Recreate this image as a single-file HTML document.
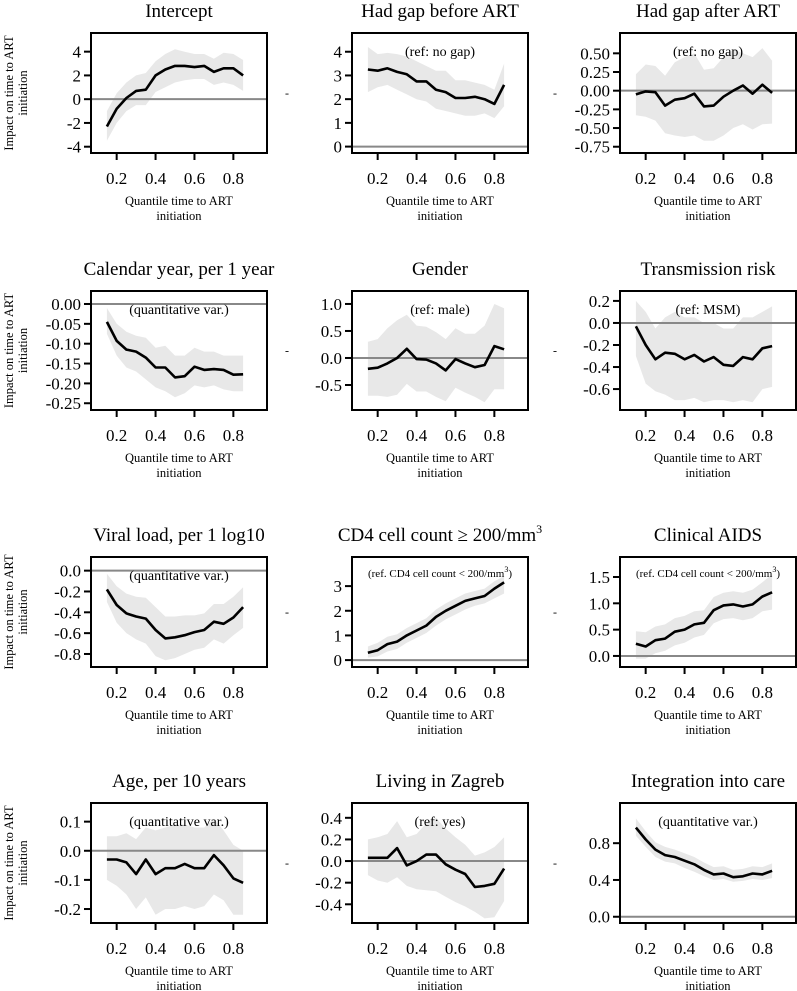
<!DOCTYPE html>
<html><head><meta charset="utf-8">
<style>
html,body{margin:0;padding:0;background:#fff;}
svg{display:block;font-family:"Liberation Serif",serif;}
</style></head>
<body>
<svg id="fig" width="797" height="991" viewBox="0 0 797 991" xmlns="http://www.w3.org/2000/svg"></svg>
<script>
const quantiles = [0.15,0.2,0.25,0.3,0.35,0.4,0.45,0.5,0.55,0.6,0.65,0.7,0.75,0.8,0.85];
const xTicks = [0.2,0.4,0.6,0.8];
const panelTitles = ["Intercept","Had gap before ART","Had gap after ART","Calendar year, per 1 year","Gender","Transmission risk","Viral load, per 1 log10","CD4 cell count \u2265 200/mm\u00B3","Clinical AIDS","Age, per 10 years","Living in Zagreb","Integration into care"];
const panelNotes = ["","(ref: no gap)","(ref: no gap)","(quantitative var.)","(ref: male)","(ref: MSM)","(quantitative var.)","(ref. CD4 cell count < 200/mm\u00B3)","(ref. CD4 cell count < 200/mm\u00B3)","(quantitative var.)","(ref: yes)","(quantitative var.)"];
const estIntercept = [-2.3,-0.8,0.1,0.7,0.8,2.0,2.5,2.8,2.8,2.7,2.8,2.3,2.6,2.6,2.0];
const lowIntercept = [-3.5,-2,-1,-0.5,-0.5,0.6,1,1.4,1.6,1.7,1.7,1.2,1.4,1.2,0.7];
const highIntercept = [-1,0.5,1.4,2,2.2,3.2,3.8,4.2,4,3.8,3.8,3.4,3.9,3.8,3.3];
const estGapBefore = [3.25,3.2,3.3,3.15,3.05,2.75,2.75,2.4,2.3,2.05,2.05,2.1,2.0,1.8,2.6];
const lowGapBefore = [2.3,2.5,2.6,2.4,2.2,2.0,1.9,1.6,1.5,1.4,1.3,1.3,1.4,1.2,1.7];
const highGapBefore = [4.2,3.9,3.95,3.9,3.8,3.6,3.4,3.2,3.2,2.8,2.8,2.7,2.6,2.4,3.5];
const estGapAfter = [-0.05,-0.01,-0.02,-0.2,-0.12,-0.1,-0.04,-0.21,-0.2,-0.08,0.0,0.07,-0.04,0.08,-0.03];
const lowGapAfter = [-0.33,-0.35,-0.4,-0.57,-0.6,-0.62,-0.6,-0.67,-0.67,-0.6,-0.5,-0.45,-0.52,-0.45,-0.44];
const highGapAfter = [0.22,0.35,0.33,0.2,0.38,0.45,0.5,0.28,0.3,0.45,0.55,0.5,0.45,0.57,0.4];
const estCalendar = [-0.045,-0.093,-0.115,-0.12,-0.135,-0.16,-0.16,-0.185,-0.182,-0.158,-0.166,-0.164,-0.166,-0.178,-0.177];
const lowCalendar = [-0.075,-0.13,-0.16,-0.17,-0.19,-0.21,-0.22,-0.235,-0.225,-0.205,-0.21,-0.205,-0.215,-0.22,-0.22];
const highCalendar = [-0.01,-0.05,-0.07,-0.08,-0.085,-0.11,-0.105,-0.13,-0.13,-0.11,-0.12,-0.12,-0.13,-0.13,-0.13];
const estGender = [-0.2,-0.18,-0.1,0.0,0.17,-0.02,-0.03,-0.1,-0.23,-0.02,-0.1,-0.17,-0.13,0.22,0.16];
const lowGender = [-0.7,-0.7,-0.72,-0.68,-0.48,-0.62,-0.62,-0.72,-0.8,-0.55,-0.64,-0.72,-0.82,-0.58,-0.58];
const highGender = [0.3,0.35,0.55,0.7,0.8,0.6,0.58,0.48,0.35,0.55,0.45,0.45,0.6,1.0,0.92];
const estTransmission = [-0.03,-0.2,-0.33,-0.27,-0.28,-0.33,-0.29,-0.35,-0.31,-0.38,-0.39,-0.31,-0.33,-0.23,-0.21];
const lowTransmission = [-0.3,-0.55,-0.62,-0.65,-0.7,-0.7,-0.68,-0.72,-0.7,-0.7,-0.72,-0.7,-0.72,-0.6,-0.58];
const highTransmission = [0.2,0.1,-0.05,0.05,0.1,0.05,0.05,0.0,0.0,-0.05,-0.05,0.05,0.05,0.1,0.15];
const estViral = [-0.18,-0.33,-0.41,-0.44,-0.46,-0.57,-0.65,-0.64,-0.62,-0.59,-0.57,-0.49,-0.51,-0.45,-0.35];
const lowViral = [-0.3,-0.5,-0.6,-0.66,-0.7,-0.82,-0.86,-0.84,-0.8,-0.76,-0.74,-0.66,-0.7,-0.62,-0.55];
const highViral = [-0.03,-0.15,-0.22,-0.25,-0.26,-0.35,-0.44,-0.44,-0.43,-0.43,-0.41,-0.32,-0.32,-0.25,-0.16];
const estCD4 = [0.3,0.4,0.65,0.75,1.0,1.2,1.4,1.75,2.0,2.2,2.4,2.5,2.6,2.9,3.15];
const lowCD4 = [0.1,0.15,0.35,0.45,0.7,0.9,1.1,1.4,1.65,1.85,2.05,2.2,2.3,2.5,2.7];
const highCD4 = [0.55,0.7,0.95,1.05,1.3,1.5,1.7,2.05,2.3,2.5,2.7,2.8,2.9,3.2,3.4];
const estAIDS = [0.23,0.18,0.3,0.33,0.46,0.5,0.6,0.63,0.87,0.96,0.98,0.94,0.98,1.13,1.21];
const lowAIDS = [-0.05,-0.05,0.05,0.1,0.2,0.25,0.35,0.4,0.62,0.7,0.72,0.68,0.72,0.85,0.88];
const highAIDS = [0.47,0.45,0.56,0.6,0.72,0.76,0.85,0.87,1.12,1.2,1.23,1.2,1.26,1.4,1.55];
const estAge = [-0.03,-0.03,-0.04,-0.08,-0.03,-0.08,-0.06,-0.06,-0.045,-0.06,-0.06,-0.015,-0.05,-0.095,-0.11];
const lowAge = [-0.1,-0.12,-0.15,-0.2,-0.16,-0.22,-0.2,-0.2,-0.19,-0.2,-0.19,-0.15,-0.17,-0.22,-0.22];
const highAge = [0.05,0.05,0.06,0.04,0.08,0.07,0.08,0.09,0.09,0.08,0.08,0.11,0.07,0.02,0.0];
const estZagreb = [0.03,0.03,0.03,0.12,-0.04,0.0,0.06,0.06,-0.03,-0.08,-0.12,-0.24,-0.23,-0.21,-0.07];
const lowZagreb = [-0.13,-0.18,-0.2,-0.15,-0.23,-0.26,-0.27,-0.28,-0.33,-0.38,-0.42,-0.47,-0.53,-0.52,-0.37];
const highZagreb = [0.2,0.22,0.25,0.37,0.22,0.25,0.35,0.4,0.3,0.22,0.15,0.05,0.08,0.13,0.22];
const estIntegration = [0.97,0.84,0.73,0.67,0.65,0.61,0.57,0.51,0.46,0.47,0.43,0.44,0.47,0.46,0.5];
const lowIntegration = [0.88,0.76,0.65,0.6,0.58,0.53,0.49,0.44,0.4,0.41,0.38,0.39,0.41,0.4,0.42];
const highIntegration = [1.07,0.93,0.81,0.76,0.73,0.69,0.65,0.59,0.54,0.55,0.51,0.52,0.55,0.54,0.58];
const yTickSets = [[4,2,0,-2,-4],[4,3,2,1,0],[0.5,0.25,0,-0.25,-0.5,-0.75],[0,-0.05,-0.1,-0.15,-0.2,-0.25],[1,0.5,0,-0.5],[0.2,0,-0.2,-0.4,-0.6],[0,-0.2,-0.4,-0.6,-0.8],[3,2,1,0],[1.5,1,0.5,0],[0.1,0,-0.1,-0.2],[0.4,0.2,0,-0.2,-0.4],[0.8,0.4,0]];
const yTickDigits = [0,0,2,2,1,1,1,0,1,1,1,1];
const yDomains = [[5.57,-4.53],[4.79,-0.27],[0.772,-0.834],[0.0327,-0.267],[1.24,-0.963],[0.29,-0.79],[0.131,-0.925],[4.18,-0.28],[1.88,-0.21],[0.164,-0.248],[0.537,-0.573],[1.237,-0.068]];
const estimates = [estIntercept,estGapBefore,estGapAfter,estCalendar,estGender,estTransmission,estViral,estCD4,estAIDS,estAge,estZagreb,estIntegration];
const lows = [lowIntercept,lowGapBefore,lowGapAfter,lowCalendar,lowGender,lowTransmission,lowViral,lowCD4,lowAIDS,lowAge,lowZagreb,lowIntegration];
const highs = [highIntercept,highGapBefore,highGapAfter,highCalendar,highGender,highTransmission,highViral,highCD4,highAIDS,highAge,highZagreb,highIntegration];

const NS="http://www.w3.org/2000/svg";
const svg=document.getElementById('fig');
const colLeft=[91,352,620], boxW=176;
const rowTop=[33,291,557,803], rowBot=[153,410,667,923];
const xMin=0.068, xMax=0.973;
function mk(tag,attrs,parent){const e=document.createElementNS(NS,tag);for(const k in attrs)e.setAttribute(k,attrs[k]);(parent||svg).appendChild(e);return e;}
function slug(s){return s.toLowerCase().replace(/[^a-z0-9]+/g,'-').replace(/^-|-$/g,'');}

for(let p=0;p<12;p++){
  const c=p%3,r=Math.floor(p/3);
  const L=colLeft[c],R=L+boxW,T=rowTop[r],B=rowBot[r];
  const xs=v=>L+(v-xMin)/(xMax-xMin)*boxW;
  const [d0,d1]=yDomains[p];
  const ys=v=>T+(d0-v)/(d0-d1)*(B-T);
  const g=mk('g',{});
  
  
  const t=mk('text',{x:(L+R)/2,y:T-16,'text-anchor':'middle','font-size':'19'},g);
  
  
  if(p===7){t.textContent='CD4 cell count \u2265 200/mm';const s=mk('tspan',{'font-size':'12',dy:'-8'},t);s.textContent='3';}
  else t.textContent=panelTitles[p];
  let d='M'+quantiles.map((q,i)=>xs(q).toFixed(1)+','+ys(highs[p][i]).toFixed(1)).join('L');
  for(let i=quantiles.length-1;i>=0;i--)d+='L'+xs(quantiles[i]).toFixed(1)+','+ys(lows[p][i]).toFixed(1);
  const band=mk('path',{d:d+'Z',fill:'#e8e8e8',stroke:'none'},g);
  
  
  const z=mk('line',{x1:L,x2:R,y1:ys(0),y2:ys(0),stroke:'#888','stroke-width':2},g);
  
  
  const ln=mk('polyline',{points:quantiles.map((q,i)=>xs(q).toFixed(1)+','+ys(estimates[p][i]).toFixed(1)).join(' '),fill:'none',stroke:'#000','stroke-width':2.6,'stroke-linejoin':'round'},g);
  
  
  if(panelNotes[p]){
    const n=mk('text',{x:(L+R)/2,y:T+(p>=7&&p<=8?20:23),'text-anchor':'middle','font-size':(p===7||p===8)?'11':'14'},g);
    
    
    if(p===7||p===8){n.textContent='(ref. CD4 cell count < 200/mm';const s=mk('tspan',{'font-size':'8',dy:'-5'},n);s.textContent='3';const s2=mk('tspan',{dy:'5'},n);s2.textContent=')';}
    else n.textContent=panelNotes[p];
  }
  const bx=mk('rect',{x:L,y:T,width:boxW,height:B-T,fill:'none',stroke:'#000','stroke-width':2},g);
  
  
  yTickSets[p].forEach(v=>{
    const y=ys(v);
    mk('line',{x1:L-7,x2:L,y1:y,y2:y,stroke:'#000','stroke-width':2},g);
    const tl=mk('text',{x:L-10,y:y+6,'text-anchor':'end','font-size':'17'},g);
    
    
    tl.textContent=v.toFixed(yTickDigits[p]);
  });
  xTicks.forEach(v=>{
    const x=xs(v);
    mk('line',{x1:x,x2:x,y1:B,y2:B+7,stroke:'#000','stroke-width':2},g);
    const tl=mk('text',{x:x,y:B+31,'text-anchor':'middle','font-size':'17'},g);
    
    
    tl.textContent=v.toFixed(1);
  });
  const xl=mk('text',{x:(L+R)/2,y:B+52,'text-anchor':'middle','font-size':'12.5'},g);
  
  
  xl.textContent='Quantile time to ART';
  const xl2=mk('text',{x:(L+R)/2,y:B+67,'text-anchor':'middle','font-size':'12.5'},g);
  
  
  xl2.textContent='initiation';
  const mid=(T+B)/2;
  if(c===0){
    const yl=mk('text',{transform:'translate(13,'+mid+') rotate(-90)','text-anchor':'middle','font-size':'12.5'},g);
    
    
    yl.textContent='Impact on time to ART';
    const yl2=mk('text',{transform:'translate(27,'+mid+') rotate(-90)','text-anchor':'middle','font-size':'12.5'},g);
    
    
    yl2.textContent='initiation';
  } else {
    const dl=mk('text',{x:L-65,y:mid+4,'text-anchor':'middle','font-size':'12'},g);
    
    
    dl.textContent='-';
  }
}
</script>
</body></html>
